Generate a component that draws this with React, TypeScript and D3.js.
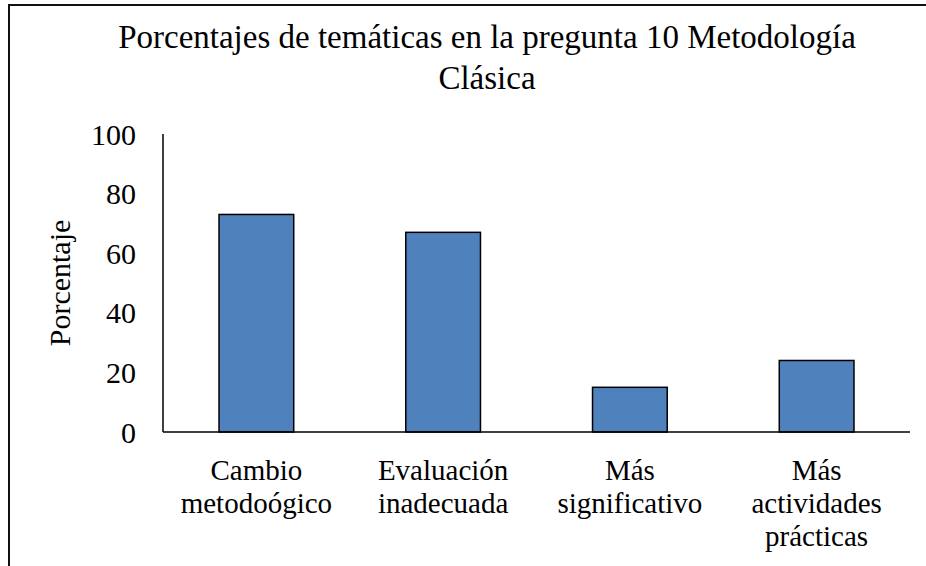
import React from "react";
import * as d3 from "d3";

const categories: string[][] = [
  ["Cambio", "metodoógico"],
  ["Evaluación", "inadecuada"],
  ["Más", "significativo"],
  ["Más", "actividades", "prácticas"],
];
const values: number[] = [73, 67, 15, 24];
const yTicks: number[] = [0, 20, 40, 60, 80, 100];
const titleLines: string[] = ["Porcentajes de temáticas en la pregunta 10 Metodología", "Clásica"];
const yTitle = "Porcentaje";

const W = 926;
const H = 566;
const FONT = "'Liberation Serif', 'Times New Roman', Times, serif";

export default function App() {
  const left = 163;
  const right = 910;
  const top = 134;
  const bottom = 432;
  const x = d3
    .scaleBand<number>()
    .domain(categories.map((_, i) => i))
    .range([left, right])
    .padding(0);
  const y = d3.scaleLinear().domain([0, 100]).range([bottom, top]);
  const bw = x.bandwidth() * 0.4;

  return (
    <svg
      width={W}
      height={H}
      style={{ position: "absolute", left: 0, top: 0, background: "#fff" }}
      fontFamily={FONT}
    >
      <rect x={0} y={0} width={W} height={H} fill="#fff" />
      <rect x={9} y={5} width={W + 20} height={H + 20} fill="none" stroke="#111" strokeWidth={2} />
      {titleLines.map((t, i) => (
        <text key={i} x={487} y={48 + i * 41} textAnchor="middle" fontSize={33} fill="#000">
          {t}
        </text>
      ))}
      {values.map((v, i) => (
        <rect
          key={i}
          x={(x(i) as number) + (x.bandwidth() - bw) / 2}
          y={y(v)}
          width={bw}
          height={y(0) - y(v)}
          fill="#4F81BD"
          stroke="#000"
          strokeWidth={1.5}
        />
      ))}
      <line x1={left} x2={left} y1={top} y2={bottom} stroke="#000" strokeWidth={1.5} />
      <line x1={left} x2={right} y1={bottom} y2={bottom} stroke="#000" strokeWidth={1.5} />
      {yTicks.map((t) => (
        <text key={t} x={136} y={y(t)} dy="0.35em" textAnchor="end" fontSize={30} fill="#000">
          {t}
        </text>
      ))}
      <text
        transform={`translate(70, ${(top + bottom) / 2}) rotate(-90)`}
        textAnchor="middle"
        fontSize={30}
        fill="#000"
      >
        {yTitle}
      </text>
      {categories.map((lines, i) => (
        <text
          key={i}
          x={(x(i) as number) + x.bandwidth() / 2}
          textAnchor="middle"
          fontSize={29}
          fill="#000"
        >
          {lines.map((l, j) => (
            <tspan key={j} x={(x(i) as number) + x.bandwidth() / 2} y={480 + j * 33}>
              {l}
            </tspan>
          ))}
        </text>
      ))}
    </svg>
  );
}
